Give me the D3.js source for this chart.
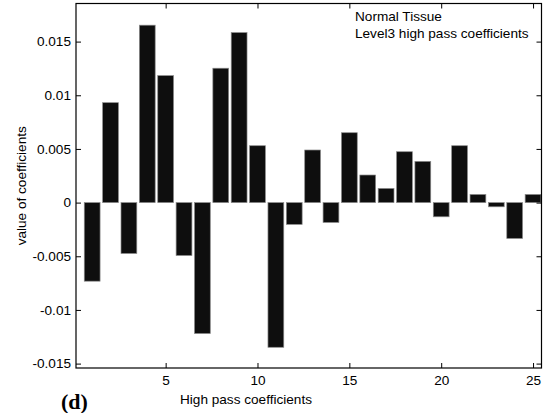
<!DOCTYPE html>
<html>
<head>
<meta charset="utf-8">
<script src="https://cdn.jsdelivr.net/npm/d3@7"></script>
<style>
  body { margin: 0; background: white; }
  svg { display: block; font-family: "Liberation Sans", Arial, sans-serif; }
</style>
</head>
<body>
<svg id="chart" width="549" height="413"></svg>
<script>
// coefficient index 1..25 and values
const indices = d3.range(1, 26);
const values = [-0.00732, 0.00931, -0.00474, 0.01653, 0.01183, -0.00493, -0.0122,
    0.01252, 0.01584, 0.0053, -0.01348, -0.00203, 0.0049, -0.00185, 0.00651,
    0.00257, 0.00132, 0.00474, 0.00384, -0.00132, 0.0053, 0.00076, -0.00039,
    -0.00334, 0.00076];
const xTicks = [5, 10, 15, 20, 25];
const yTicks = [-0.015, -0.01, -0.005, 0, 0.005, 0.01, 0.015];
const legendLines = ["Normal Tissue", "Level3 high pass coefficients"];

const svg = d3.select("#chart");
const box = { left: 76, right: 541.5, top: 3.5, bottom: 368 };
const tickLen = 5;
const fontSize = "13.6px";

const x = d3.scaleLinear().domain([0.12, 25.46]).range([box.left, box.right]);
const y = d3.scaleLinear().domain([-0.01541, 0.01855]).range([box.bottom, box.top]);
const barW = 0.86;

// bars
svg.append("g").selectAll("rect")
    .data(indices)
    .join("rect")
    .attr("x", d => x(d - barW / 2))
    .attr("width", d => x(d + barW / 2) - x(d - barW / 2))
    .attr("y", (d, i) => y(Math.max(0, values[i])))
    .attr("height", (d, i) => Math.abs(y(values[i]) - y(0)))
    .attr("fill", "#0e0e0e")
    .attr("stroke", "#8a8a8a")
    .attr("stroke-width", 0.7);

// axes (MATLAB style: ticks inward, box with mirrored ticks)
const fmt = d => d === 0 ? "0" : String(d);

const xAxis = svg.append("g")
    .attr("transform", `translate(0,${box.bottom})`)
    .call(d3.axisBottom(x).tickValues(xTicks).tickSizeInner(-tickLen).tickSizeOuter(0).tickPadding(7));
const xTop = svg.append("g")
    .attr("transform", `translate(0,${box.top})`)
    .call(d3.axisTop(x).tickValues(xTicks).tickSizeInner(-tickLen).tickSizeOuter(0).tickFormat(""));
const yAxis = svg.append("g")
    .attr("transform", `translate(${box.left},0)`)
    .call(d3.axisLeft(y).tickValues(yTicks).tickFormat(fmt).tickSizeInner(-tickLen).tickSizeOuter(0).tickPadding(5));
const yRight = svg.append("g")
    .attr("transform", `translate(${box.right},0)`)
    .call(d3.axisRight(y).tickValues(yTicks).tickSizeInner(-tickLen).tickSizeOuter(0).tickFormat(""));

[xAxis, xTop, yAxis, yRight].forEach(g => {
    g.select(".domain").remove();
    g.selectAll("line").attr("stroke", "#000").attr("stroke-width", 1);
    g.selectAll("text").attr("fill", "#000").style("font-size", fontSize)
        .style("font-family", "'Liberation Sans', Arial, sans-serif");
});

svg.append("rect")
    .attr("x", box.left)
    .attr("y", box.top)
    .attr("width", box.right - box.left)
    .attr("height", box.bottom - box.top)
    .attr("fill", "none")
    .attr("stroke", "#000")
    .attr("stroke-width", 1.2);

// labels
svg.append("text")
    .attr("x", 180)
    .attr("y", 404)
    .style("font-size", fontSize)
    .text("High pass coefficients");

svg.append("text")
    .attr("transform", `translate(25.5,${(box.top + box.bottom) / 2}) rotate(-90)`)
    .attr("text-anchor", "middle")
    .style("font-size", fontSize)
    .text("value of coefficients");

svg.append("g").selectAll("text")
    .data(legendLines)
    .join("text")
    .attr("x", 355)
    .attr("y", (d, i) => 20.5 + i * 17.6)
    .style("font-size", fontSize)
    .text(d => d);

svg.append("text")
    .attr("x", 61)
    .attr("y", 409)
    .style("font-family", "'Liberation Serif', 'Times New Roman', serif")
    .style("font-size", "22px")
    .style("font-weight", "bold")
    .text("(d)");
</script>
</body>
</html>
